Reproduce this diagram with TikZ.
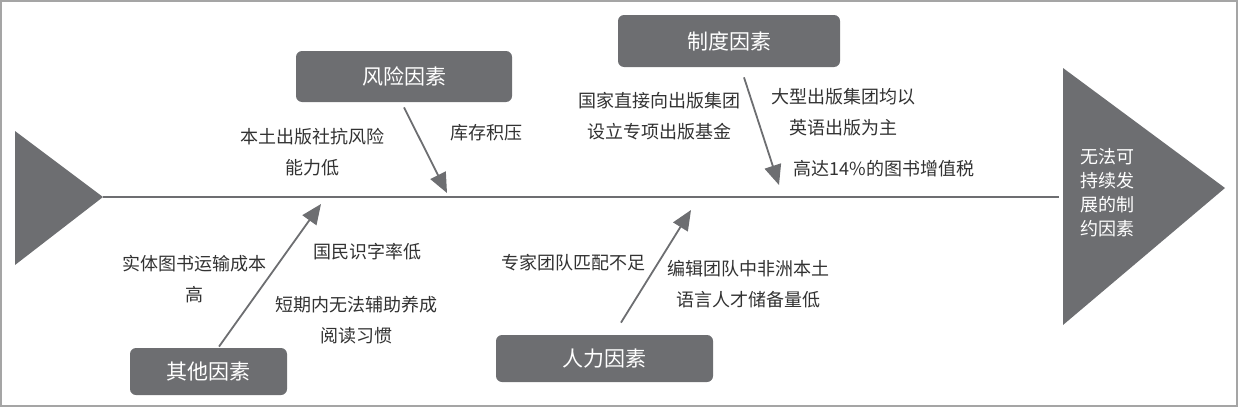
\documentclass[tikz,border=0pt]{standalone}
\usepackage{fontspec}
\setmainfont{Noto Sans CJK SC}
\definecolor{boneGray}{RGB}{109,110,113}
\definecolor{labelGray}{RGB}{50,50,50}
\definecolor{frameGray}{RGB}{165,165,165}
\usepackage{tikz}
\usetikzlibrary{positioning,calc,arrows.meta}

\begin{document}
\begin{tikzpicture}[x=0.5pt,y=-0.5pt,
    factor/.style={rounded corners=3pt,fill=boneGray,text=white,
                   font=\fontsize{10.5pt}{12pt}\selectfont,inner sep=0pt},
    cause/.style={text=labelGray,font=\fontsize{9pt}{15.5pt}\selectfont,
                  align=center,inner sep=0pt},
    bone/.style={draw=boneGray,line width=0.9pt,-{Triangle[length=10pt,width=8.5pt]}}]
    \useasboundingbox (0,0) rectangle (1238,407);
    \draw[frameGray,line width=1pt] (1,1) rectangle (1237,406);

    % head, tail and spine
    \fill[boneGray] (15,131) -- (103,197) -- (15,265) -- cycle;
    \fill[boneGray] (1063,68) -- (1225,188) -- (1063,325) -- cycle;
    \coordinate (tail) at (103,197);
    \coordinate (head) at (1059,197);
    \draw[boneGray,line width=1.2pt] (tail) -- (head);
    \node[text=white,font=\fontsize{9pt}{12pt}\selectfont,align=left,inner sep=0pt]
        (effect) at (1107,193) {无法可\\持续发\\展的制\\约因素};

    % factor boxes
    \node[factor,minimum width=108pt,minimum height=25.5pt] (risk) at (404,76.5) {风险因素};
    \node[factor,minimum width=111pt,minimum height=26pt] (inst) at (729,41) {制度因素};
    \node[factor,minimum width=78.5pt,minimum height=23.5pt] (other) at (208.5,371.5) {其他因素};
    \node[factor,minimum width=108.5pt,minimum height=23.5pt] (hr) at (604.5,358.5) {人力因素};

    % bones
    \coordinate (riskEnd) at (447,193);
    \coordinate (instEnd) at (779,185);
    \coordinate (otherEnd) at (321,204);
    \coordinate (hrEnd) at (691,210);
    \draw[bone] ([yshift=-2.5pt]risk.south) -- (riskEnd);
    \draw[bone] ([xshift=7.5pt,yshift=-5pt]inst.south) -- (instEnd);
    \draw[bone] ([xshift=5.25pt,yshift=0.5pt]other.north) -- (otherEnd);
    \draw[bone] ([xshift=8.25pt,yshift=6pt]hr.north) -- (hrEnd);

    % causes
    \node[cause] (riskA) at (312,152) {本土出版社抗风险\\能力低};
    \node[cause] (riskB) at (486,133) {库存积压};
    \node[cause] (instA) at (659,116) {国家直接向出版集团\\设立专项出版基金};
    \node[cause] (instB) at (843,112) {大型出版集团均以\\英语出版为主};
    \node[cause] (instC) at (884,169) {高达14\%的图书增值税};
    \node[cause] (otherA) at (194,279) {实体图书运输成本\\高};
    \node[cause] (otherB) at (367,252) {国民识字率低};
    \node[cause] (otherC) at (356,320) {短期内无法辅助养成\\阅读习惯};
    \node[cause] (hrA) at (573,263) {专家团队匹配不足};
    \node[cause] (hrB) at (748,284) {编辑团队中非洲本土\\语言人才储备量低};
\end{tikzpicture}
\end{document}
